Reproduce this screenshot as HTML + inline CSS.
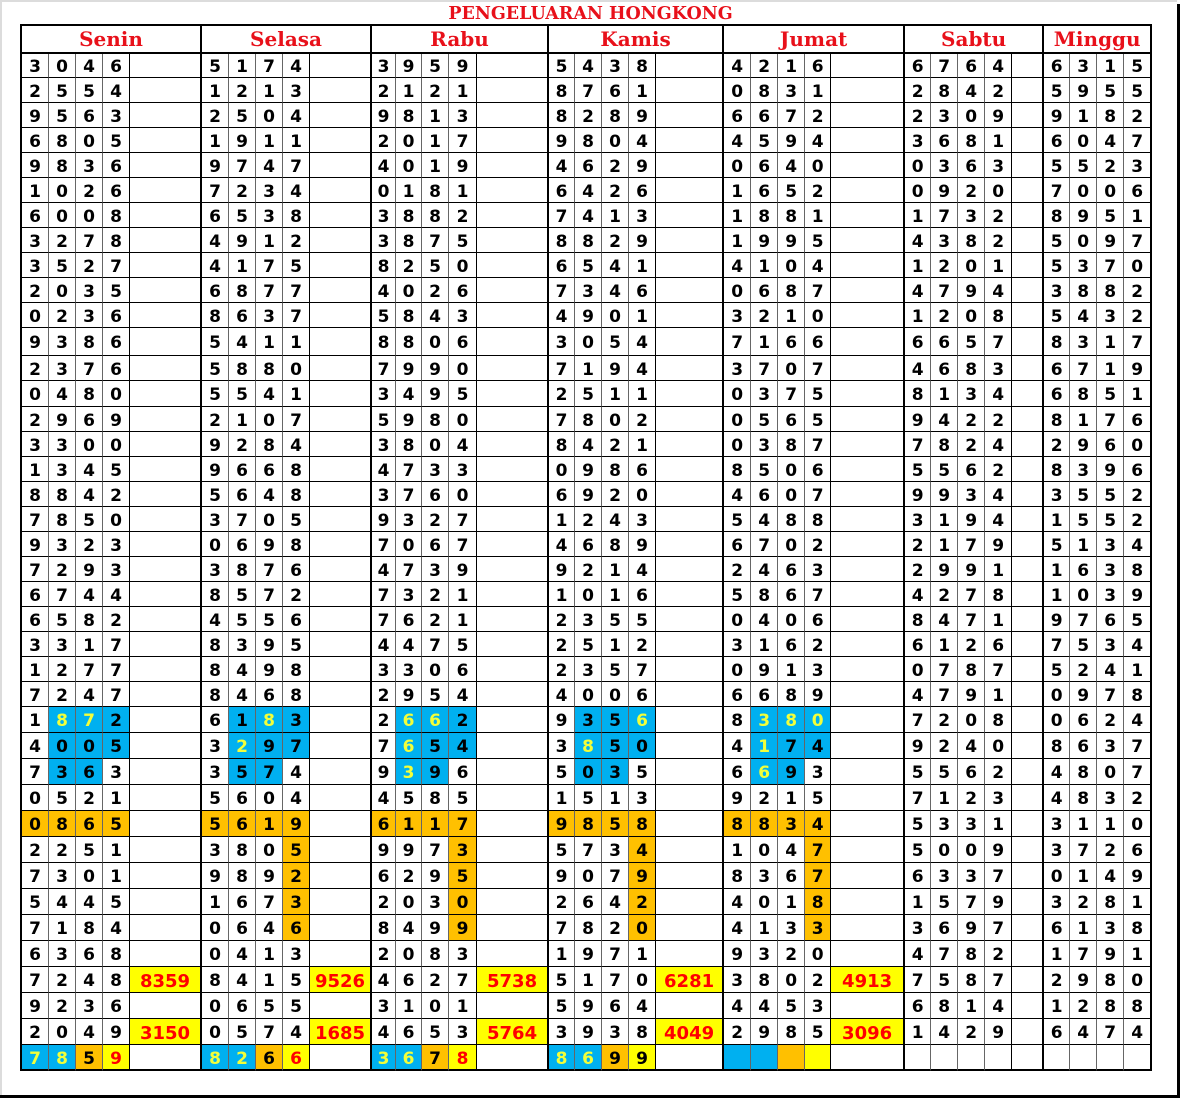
<!DOCTYPE html>
<html><head><meta charset="utf-8"><style>
html,body{margin:0;padding:0;background:#fff}
body{width:1180px;height:1098px;position:relative;overflow:hidden}
.fl{position:absolute;left:0;top:0;width:2px;height:1095px;background:#dcdcdc}
.ft{position:absolute;left:0;top:0;width:1177px;height:2px;background:#dcdcdc}
.fr{position:absolute;left:1177px;top:4px;width:3px;height:1094px;background:#000}
.fb{position:absolute;left:0;top:1095px;width:1180px;height:3px;background:#000}
.title{position:absolute;left:0;width:1181px;top:5px;text-align:center;font:bold 17.5px/18px "DejaVu Serif","Liberation Serif",serif;color:#e8101a;white-space:nowrap}
table{position:absolute;left:20px;top:24px;border-collapse:separate;border-spacing:0;table-layout:fixed;width:1132px;border-left:2px solid #000;border-top:2px solid #000;font:bold 17px/17px "DejaVu Sans","Liberation Sans",sans-serif;color:#000}
th{height:26px;padding:0;border-right:2px solid #000;border-bottom:2px solid #000;font:bold 20px/20px "DejaVu Serif","Liberation Serif",serif;color:#e8101a;text-align:center;vertical-align:middle}
td{padding:4px 0 0 0;text-align:center;vertical-align:middle;border-right:1px solid #666;border-bottom:1px solid #000;white-space:nowrap;overflow:hidden}
td:nth-child(5n+4){border-right-color:#000}
td:nth-child(5n){border-right:2px solid #000}
td:last-child{border-right:2px solid #000}
tr{height:25px}
tr.a{height:24px}
tr.c{height:28px}
tr.d{height:26px}
tr.e{height:26px}
tr.f{height:26px}
tr.f td{border-bottom:2px solid #000}
.u{background:#00b0f0}
.uy{background:#00b0f0;color:#f2ff3a}
.o{background:#ffc000}
.y{background:#ffff00;color:#ff0000}
.yk{background:#ffff00}
td.n{font-size:18px}
</style></head><body>
<div class="ft"></div><div class="fl"></div><div class="fr"></div><div class="fb"></div>
<div class="title">PENGELUARAN HONGKONG</div>
<table>
<colgroup>
<col style="width:27px"><col style="width:27px"><col style="width:27px"><col style="width:27px"><col style="width:72px">
<col style="width:27px"><col style="width:27px"><col style="width:27px"><col style="width:27px"><col style="width:62px">
<col style="width:24px"><col style="width:26px"><col style="width:27px"><col style="width:28px"><col style="width:72px">
<col style="width:26px"><col style="width:27px"><col style="width:27px"><col style="width:27px"><col style="width:68px">
<col style="width:27px"><col style="width:27px"><col style="width:27px"><col style="width:26px"><col style="width:74px">
<col style="width:26px"><col style="width:27px"><col style="width:27px"><col style="width:27px"><col style="width:32px">
<col style="width:26px"><col style="width:27px"><col style="width:27px"><col style="width:28px">
</colgroup>
<tr><th colspan="5">Senin</th><th colspan="5">Selasa</th><th colspan="5">Rabu</th><th colspan="5">Kamis</th><th colspan="5">Jumat</th><th colspan="5">Sabtu</th><th colspan="4">Minggu</th></tr>
<tr class="a"><td>3<td>0<td>4<td>6<td><td>5<td>1<td>7<td>4<td><td>3<td>9<td>5<td>9<td><td>5<td>4<td>3<td>8<td><td>4<td>2<td>1<td>6<td><td>6<td>7<td>6<td>4<td><td>6<td>3<td>1<td>5</tr>
<tr><td>2<td>5<td>5<td>4<td><td>1<td>2<td>1<td>3<td><td>2<td>1<td>2<td>1<td><td>8<td>7<td>6<td>1<td><td>0<td>8<td>3<td>1<td><td>2<td>8<td>4<td>2<td><td>5<td>9<td>5<td>5</tr>
<tr><td>9<td>5<td>6<td>3<td><td>2<td>5<td>0<td>4<td><td>9<td>8<td>1<td>3<td><td>8<td>2<td>8<td>9<td><td>6<td>6<td>7<td>2<td><td>2<td>3<td>0<td>9<td><td>9<td>1<td>8<td>2</tr>
<tr><td>6<td>8<td>0<td>5<td><td>1<td>9<td>1<td>1<td><td>2<td>0<td>1<td>7<td><td>9<td>8<td>0<td>4<td><td>4<td>5<td>9<td>4<td><td>3<td>6<td>8<td>1<td><td>6<td>0<td>4<td>7</tr>
<tr><td>9<td>8<td>3<td>6<td><td>9<td>7<td>4<td>7<td><td>4<td>0<td>1<td>9<td><td>4<td>6<td>2<td>9<td><td>0<td>6<td>4<td>0<td><td>0<td>3<td>6<td>3<td><td>5<td>5<td>2<td>3</tr>
<tr><td>1<td>0<td>2<td>6<td><td>7<td>2<td>3<td>4<td><td>0<td>1<td>8<td>1<td><td>6<td>4<td>2<td>6<td><td>1<td>6<td>5<td>2<td><td>0<td>9<td>2<td>0<td><td>7<td>0<td>0<td>6</tr>
<tr><td>6<td>0<td>0<td>8<td><td>6<td>5<td>3<td>8<td><td>3<td>8<td>8<td>2<td><td>7<td>4<td>1<td>3<td><td>1<td>8<td>8<td>1<td><td>1<td>7<td>3<td>2<td><td>8<td>9<td>5<td>1</tr>
<tr><td>3<td>2<td>7<td>8<td><td>4<td>9<td>1<td>2<td><td>3<td>8<td>7<td>5<td><td>8<td>8<td>2<td>9<td><td>1<td>9<td>9<td>5<td><td>4<td>3<td>8<td>2<td><td>5<td>0<td>9<td>7</tr>
<tr><td>3<td>5<td>2<td>7<td><td>4<td>1<td>7<td>5<td><td>8<td>2<td>5<td>0<td><td>6<td>5<td>4<td>1<td><td>4<td>1<td>0<td>4<td><td>1<td>2<td>0<td>1<td><td>5<td>3<td>7<td>0</tr>
<tr><td>2<td>0<td>3<td>5<td><td>6<td>8<td>7<td>7<td><td>4<td>0<td>2<td>6<td><td>7<td>3<td>4<td>6<td><td>0<td>6<td>8<td>7<td><td>4<td>7<td>9<td>4<td><td>3<td>8<td>8<td>2</tr>
<tr><td>0<td>2<td>3<td>6<td><td>8<td>6<td>3<td>7<td><td>5<td>8<td>4<td>3<td><td>4<td>9<td>0<td>1<td><td>3<td>2<td>1<td>0<td><td>1<td>2<td>0<td>8<td><td>5<td>4<td>3<td>2</tr>
<tr class="c"><td>9<td>3<td>8<td>6<td><td>5<td>4<td>1<td>1<td><td>8<td>8<td>0<td>6<td><td>3<td>0<td>5<td>4<td><td>7<td>1<td>6<td>6<td><td>6<td>6<td>5<td>7<td><td>8<td>3<td>1<td>7</tr>
<tr><td>2<td>3<td>7<td>6<td><td>5<td>8<td>8<td>0<td><td>7<td>9<td>9<td>0<td><td>7<td>1<td>9<td>4<td><td>3<td>7<td>0<td>7<td><td>4<td>6<td>8<td>3<td><td>6<td>7<td>1<td>9</tr>
<tr class="d"><td>0<td>4<td>8<td>0<td><td>5<td>5<td>4<td>1<td><td>3<td>4<td>9<td>5<td><td>2<td>5<td>1<td>1<td><td>0<td>3<td>7<td>5<td><td>8<td>1<td>3<td>4<td><td>6<td>8<td>5<td>1</tr>
<tr><td>2<td>9<td>6<td>9<td><td>2<td>1<td>0<td>7<td><td>5<td>9<td>8<td>0<td><td>7<td>8<td>0<td>2<td><td>0<td>5<td>6<td>5<td><td>9<td>4<td>2<td>2<td><td>8<td>1<td>7<td>6</tr>
<tr><td>3<td>3<td>0<td>0<td><td>9<td>2<td>8<td>4<td><td>3<td>8<td>0<td>4<td><td>8<td>4<td>2<td>1<td><td>0<td>3<td>8<td>7<td><td>7<td>8<td>2<td>4<td><td>2<td>9<td>6<td>0</tr>
<tr><td>1<td>3<td>4<td>5<td><td>9<td>6<td>6<td>8<td><td>4<td>7<td>3<td>3<td><td>0<td>9<td>8<td>6<td><td>8<td>5<td>0<td>6<td><td>5<td>5<td>6<td>2<td><td>8<td>3<td>9<td>6</tr>
<tr><td>8<td>8<td>4<td>2<td><td>5<td>6<td>4<td>8<td><td>3<td>7<td>6<td>0<td><td>6<td>9<td>2<td>0<td><td>4<td>6<td>0<td>7<td><td>9<td>9<td>3<td>4<td><td>3<td>5<td>5<td>2</tr>
<tr><td>7<td>8<td>5<td>0<td><td>3<td>7<td>0<td>5<td><td>9<td>3<td>2<td>7<td><td>1<td>2<td>4<td>3<td><td>5<td>4<td>8<td>8<td><td>3<td>1<td>9<td>4<td><td>1<td>5<td>5<td>2</tr>
<tr><td>9<td>3<td>2<td>3<td><td>0<td>6<td>9<td>8<td><td>7<td>0<td>6<td>7<td><td>4<td>6<td>8<td>9<td><td>6<td>7<td>0<td>2<td><td>2<td>1<td>7<td>9<td><td>5<td>1<td>3<td>4</tr>
<tr><td>7<td>2<td>9<td>3<td><td>3<td>8<td>7<td>6<td><td>4<td>7<td>3<td>9<td><td>9<td>2<td>1<td>4<td><td>2<td>4<td>6<td>3<td><td>2<td>9<td>9<td>1<td><td>1<td>6<td>3<td>8</tr>
<tr><td>6<td>7<td>4<td>4<td><td>8<td>5<td>7<td>2<td><td>7<td>3<td>2<td>1<td><td>1<td>0<td>1<td>6<td><td>5<td>8<td>6<td>7<td><td>4<td>2<td>7<td>8<td><td>1<td>0<td>3<td>9</tr>
<tr><td>6<td>5<td>8<td>2<td><td>4<td>5<td>5<td>6<td><td>7<td>6<td>2<td>1<td><td>2<td>3<td>5<td>5<td><td>0<td>4<td>0<td>6<td><td>8<td>4<td>7<td>1<td><td>9<td>7<td>6<td>5</tr>
<tr><td>3<td>3<td>1<td>7<td><td>8<td>3<td>9<td>5<td><td>4<td>4<td>7<td>5<td><td>2<td>5<td>1<td>2<td><td>3<td>1<td>6<td>2<td><td>6<td>1<td>2<td>6<td><td>7<td>5<td>3<td>4</tr>
<tr><td>1<td>2<td>7<td>7<td><td>8<td>4<td>9<td>8<td><td>3<td>3<td>0<td>6<td><td>2<td>3<td>5<td>7<td><td>0<td>9<td>1<td>3<td><td>0<td>7<td>8<td>7<td><td>5<td>2<td>4<td>1</tr>
<tr><td>7<td>2<td>4<td>7<td><td>8<td>4<td>6<td>8<td><td>2<td>9<td>5<td>4<td><td>4<td>0<td>0<td>6<td><td>6<td>6<td>8<td>9<td><td>4<td>7<td>9<td>1<td><td>0<td>9<td>7<td>8</tr>
<tr class="e"><td>1<td class="uy">8<td class="uy">7<td class="u">2<td><td>6<td class="u">1<td class="uy">8<td class="u">3<td><td>2<td class="uy">6<td class="uy">6<td class="u">2<td><td>9<td class="u">3<td class="u">5<td class="uy">6<td><td>8<td class="uy">3<td class="uy">8<td class="uy">0<td><td>7<td>2<td>0<td>8<td><td>0<td>6<td>2<td>4</tr>
<tr class="e"><td>4<td class="u">0<td class="u">0<td class="u">5<td><td>3<td class="uy">2<td class="u">9<td class="u">7<td><td>7<td class="uy">6<td class="u">5<td class="u">4<td><td>3<td class="uy">8<td class="u">5<td class="u">0<td><td>4<td class="uy">1<td class="u">7<td class="u">4<td><td>9<td>2<td>4<td>0<td><td>8<td>6<td>3<td>7</tr>
<tr class="e"><td>7<td class="u">3<td class="u">6<td>3<td><td>3<td class="u">5<td class="u">7<td>4<td><td>9<td class="uy">3<td class="u">9<td>6<td><td>5<td class="u">0<td class="u">3<td>5<td><td>6<td class="uy">6<td class="u">9<td>3<td><td>5<td>5<td>6<td>2<td><td>4<td>8<td>0<td>7</tr>
<tr class="e"><td>0<td>5<td>2<td>1<td><td>5<td>6<td>0<td>4<td><td>4<td>5<td>8<td>5<td><td>1<td>5<td>1<td>3<td><td>9<td>2<td>1<td>5<td><td>7<td>1<td>2<td>3<td><td>4<td>8<td>3<td>2</tr>
<tr class="e"><td class="o">0<td class="o">8<td class="o">6<td class="o">5<td><td class="o">5<td class="o">6<td class="o">1<td class="o">9<td><td class="o">6<td class="o">1<td class="o">1<td class="o">7<td><td class="o">9<td class="o">8<td class="o">5<td class="o">8<td><td class="o">8<td class="o">8<td class="o">3<td class="o">4<td><td>5<td>3<td>3<td>1<td><td>3<td>1<td>1<td>0</tr>
<tr class="e"><td>2<td>2<td>5<td>1<td><td>3<td>8<td>0<td class="o">5<td><td>9<td>9<td>7<td class="o">3<td><td>5<td>7<td>3<td class="o">4<td><td>1<td>0<td>4<td class="o">7<td><td>5<td>0<td>0<td>9<td><td>3<td>7<td>2<td>6</tr>
<tr class="e"><td>7<td>3<td>0<td>1<td><td>9<td>8<td>9<td class="o">2<td><td>6<td>2<td>9<td class="o">5<td><td>9<td>0<td>7<td class="o">9<td><td>8<td>3<td>6<td class="o">7<td><td>6<td>3<td>3<td>7<td><td>0<td>1<td>4<td>9</tr>
<tr class="e"><td>5<td>4<td>4<td>5<td><td>1<td>6<td>7<td class="o">3<td><td>2<td>0<td>3<td class="o">0<td><td>2<td>6<td>4<td class="o">2<td><td>4<td>0<td>1<td class="o">8<td><td>1<td>5<td>7<td>9<td><td>3<td>2<td>8<td>1</tr>
<tr class="e"><td>7<td>1<td>8<td>4<td><td>0<td>6<td>4<td class="o">6<td><td>8<td>4<td>9<td class="o">9<td><td>7<td>8<td>2<td class="o">0<td><td>4<td>1<td>3<td class="o">3<td><td>3<td>6<td>9<td>7<td><td>6<td>1<td>3<td>8</tr>
<tr class="e"><td>6<td>3<td>6<td>8<td><td>0<td>4<td>1<td>3<td><td>2<td>0<td>8<td>3<td><td>1<td>9<td>7<td>1<td><td>9<td>3<td>2<td>0<td><td>4<td>7<td>8<td>2<td><td>1<td>7<td>9<td>1</tr>
<tr class="e"><td>7<td>2<td>4<td>8<td class="y n">8359<td>8<td>4<td>1<td>5<td class="y n">9526<td>4<td>6<td>2<td>7<td class="y n">5738<td>5<td>1<td>7<td>0<td class="y n">6281<td>3<td>8<td>0<td>2<td class="y n">4913<td>7<td>5<td>8<td>7<td><td>2<td>9<td>8<td>0</tr>
<tr class="e"><td>9<td>2<td>3<td>6<td><td>0<td>6<td>5<td>5<td><td>3<td>1<td>0<td>1<td><td>5<td>9<td>6<td>4<td><td>4<td>4<td>5<td>3<td><td>6<td>8<td>1<td>4<td><td>1<td>2<td>8<td>8</tr>
<tr class="e"><td>2<td>0<td>4<td>9<td class="y n">3150<td>0<td>5<td>7<td>4<td class="y n">1685<td>4<td>6<td>5<td>3<td class="y n">5764<td>3<td>9<td>3<td>8<td class="y n">4049<td>2<td>9<td>8<td>5<td class="y n">3096<td>1<td>4<td>2<td>9<td><td>6<td>4<td>7<td>4</tr>
<tr class="f"><td class="uy">7<td class="uy">8<td class="o">5<td class="y">9<td><td class="uy">8<td class="uy">2<td class="o">6<td class="y">6<td><td class="uy">3<td class="uy">6<td class="o">7<td class="y">8<td><td class="uy">8<td class="uy">6<td class="o">9<td class="yk">9<td><td class="u"><td class="u"><td class="o"><td class="yk"><td><td><td><td><td><td><td><td><td><td></tr>
</table>
</body></html>
